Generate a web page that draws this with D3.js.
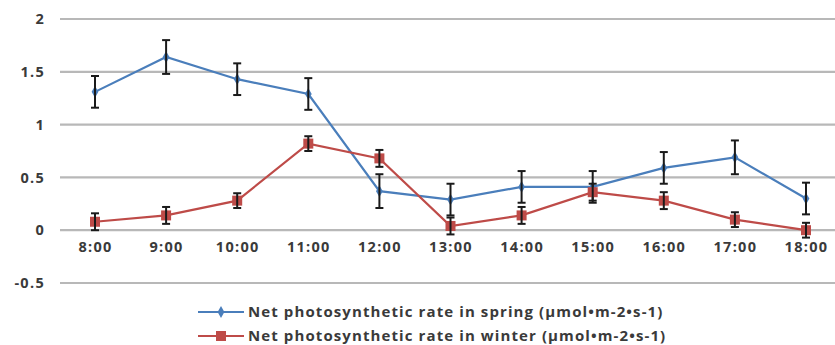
<!DOCTYPE html>
<html>
<head>
<meta charset="utf-8">
<script src="https://cdn.jsdelivr.net/npm/d3@7"></script>
<style>
  html, body { margin: 0; padding: 0; background: #fff; }
  svg { display: block; }
  text { font-family: "Open Sans", "DejaVu Sans", sans-serif; fill: #3a3a3a; font-weight: 600; }
</style>
</head>
<body>
<svg id="chart" width="835" height="345"></svg>
<script>
// Hours of the day (x categories)
const hours = ["8:00", "9:00", "10:00", "11:00", "12:00", "13:00", "14:00", "15:00", "16:00", "17:00", "18:00"];

// Net photosynthetic rate, mean and error (µmol•m-2•s-1)
const springValues = [1.31, 1.64, 1.43, 1.29, 0.37, 0.29, 0.41, 0.41, 0.59, 0.69, 0.30];
const springErrors = [0.15, 0.16, 0.15, 0.15, 0.16, 0.15, 0.15, 0.15, 0.15, 0.16, 0.15];
const winterValues = [0.08, 0.14, 0.28, 0.82, 0.68, 0.04, 0.14, 0.36, 0.28, 0.10, 0.00];
const winterErrors = [0.08, 0.08, 0.07, 0.07, 0.08, 0.08, 0.08, 0.08, 0.08, 0.07, 0.07];

const yTicks = [-0.5, 0, 0.5, 1, 1.5, 2];
const yTickLabels = ["-0.5", "0", "0.5", "1", "1.5", "2"];

const seriesNames = [
  "Net photosynthetic rate in spring (\u03bcmol\u2022m-2\u2022s-1)",
  "Net photosynthetic rate in winter (\u03bcmol\u2022m-2\u2022s-1)"
];

const series = [
  { name: seriesNames[0], values: springValues, errors: springErrors, color: "#4a7ebb", marker: "diamond" },
  { name: seriesNames[1], values: winterValues, errors: winterErrors, color: "#be4b48", marker: "square" }
];

const svg = d3.select("#chart");

const x = d3.scalePoint().domain(hours).range([95, 806]);
const y = d3.scaleLinear().domain([-0.5, 2]).range([283, 19]);

// Horizontal gridlines
svg.append("g")
  .selectAll("line")
  .data(yTicks)
  .join("line")
  .attr("x1", 60).attr("x2", 835)
  .attr("y1", d => y(d)).attr("y2", d => y(d))
  .attr("stroke", "#b8b8b8")
  .attr("stroke-width", 2.2);

const labelStyle = g => g.selectAll("text")
  .style("font-size", "14.5px")
  .style("font-family", "'Open Sans', sans-serif")
  .style("font-weight", "700")
  .style("letter-spacing", "1.3px")
  .attr("fill", "#3a3a3a");

// Y axis labels
const yAxis = d3.axisLeft(y).tickValues(yTicks)
  .tickFormat((d, i) => yTickLabels[i]).tickSize(0).tickPadding(0);
svg.append("g")
  .attr("transform", "translate(45,0)")
  .call(yAxis)
  .call(g => g.select(".domain").remove())
  .call(labelStyle);

// X axis labels sit just below the zero line
const xAxis = d3.axisBottom(x).tickSize(0).tickPadding(0);
svg.append("g")
  .attr("transform", `translate(0,${y(0) + 12})`)
  .call(xAxis)
  .call(g => g.select(".domain").remove())
  .call(labelStyle);

const line = d3.line().x((d, i) => x(hours[i])).y(d => y(d));

function drawMarker(g, type, cx, cy, color, size) {
  if (type === "diamond") {
    g.append("path")
      .attr("d", d3.symbol(d3.symbolDiamond, size)())
      .attr("transform", `translate(${cx},${cy})`)
      .attr("fill", color);
  } else {
    g.append("rect")
      .attr("x", cx - size / 2).attr("y", cy - size / 2)
      .attr("width", size).attr("height", size)
      .attr("fill", color);
  }
}

series.forEach(s => {
  const g = svg.append("g");
  g.append("path")
    .datum(s.values)
    .attr("d", line)
    .attr("fill", "none")
    .attr("stroke", s.color)
    .attr("stroke-width", 2.2);

  s.values.forEach((v, i) => {
    const cx = x(hours[i]);
    drawMarker(g, s.marker, cx, y(v), s.color, s.marker === "diamond" ? 40 : 10);
  });

  // Error bars
  const eb = g.append("g").attr("stroke", "#1a1a1a").attr("stroke-width", 2);
  s.values.forEach((v, i) => {
    const cx = x(hours[i]);
    const top = y(v + s.errors[i]);
    const bot = y(v - s.errors[i]);
    eb.append("line").attr("x1", cx).attr("x2", cx).attr("y1", top).attr("y2", bot);
    eb.append("line").attr("x1", cx - 4).attr("x2", cx + 4).attr("y1", top).attr("y2", top);
    eb.append("line").attr("x1", cx - 4).attr("x2", cx + 4).attr("y1", bot).attr("y2", bot);
  });
});

// Legend
const legend = svg.append("g");
series.forEach((s, i) => {
  const ly = 312 + i * 24;
  legend.append("line")
    .attr("x1", 198).attr("x2", 244)
    .attr("y1", ly).attr("y2", ly)
    .attr("stroke", s.color).attr("stroke-width", 2.2);
  drawMarker(legend, s.marker, 221, ly, s.color, s.marker === "diamond" ? 40 : 10);
  legend.append("text")
    .attr("x", 248).attr("y", ly)
    .attr("dy", "0.35em")
    .style("font-size", "15px")
    .style("font-weight", "700")
    .style("letter-spacing", "1.1px")
    .text(s.name);
});
</script>
</body>
</html>
